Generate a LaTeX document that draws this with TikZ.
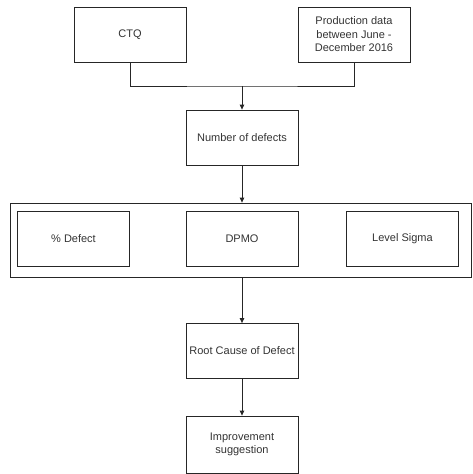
\documentclass[tikz,border=0pt]{standalone}
\usepackage{fontspec}
\setmainfont{Liberation Sans}
\usetikzlibrary{arrows.meta}
\begin{document}
\begin{tikzpicture}[x=1pt,y=-1pt,
  box/.style={draw=black!85,line width=0.8pt,minimum width=112pt,minimum height=55pt,inner sep=1pt,
    align=center,font=\fontsize{11}{13.5}\selectfont,text=black!80},
  link/.style={draw=black!85,line width=0.8pt},
  arr/.style={link,-{Triangle[length=5pt,width=4.5pt]}}]
\useasboundingbox (0,0) rectangle (472,474);
\node[box] (ctq) at (130,34.5) {CTQ};
\node[box] (prod) at (354,34.5) {Production data\\between June -\\December 2016};
\node[box] (num) at (242,137.5) {Number of defects};
\node[draw=black!85,line width=0.8pt,minimum width=461pt,minimum height=74pt,inner sep=0pt] (grp) at (240.5,240) {};
\node[box] (pct) at (73.5,239) {\% Defect};
\node[box] (dpmo) at (242,239) {DPMO};
\node[box] (sig) at (402.5,239) {Level Sigma};
\node[box] (root) at (242,351) {Root Cause of Defect};
\node[box,minimum height=57pt] (imp) at (242,444.5) {Improvement\\suggestion};
\coordinate (j) at (242,86);
\draw[link] (ctq.south) |- (j) -| (prod.south);
\draw[arr] (j) -- (num.north);
\draw[arr] (num.south) -- (num.south |- grp.north);
\draw[arr] (grp.south -| root.north) -- (root.north);
\draw[arr] (root.south) -- (imp.north);
\end{tikzpicture}
\end{document}
